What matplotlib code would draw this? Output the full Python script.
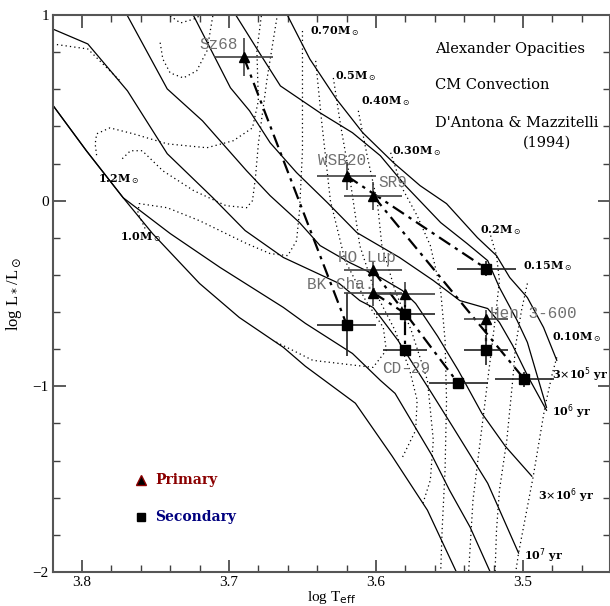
import numpy as np
import matplotlib.pyplot as plt
from matplotlib.ticker import MultipleLocator

# === ISOCHRONES (log Teff, log L/Lsun) ===
iso_3e5_t = [3.663, 3.660, 3.645, 3.627, 3.609, 3.588, 3.570, 3.552, 3.531, 3.518, 3.509, 3.497, 3.486, 3.477]
iso_3e5_l = [1.05, 0.995, 0.763, 0.548, 0.366, 0.204, 0.081, -0.016, -0.199, -0.296, -0.414, -0.522, -0.683, -0.860]

iso_1e6_t = [3.699, 3.695, 3.678, 3.665, 3.638, 3.616, 3.597, 3.580, 3.556, 3.538, 3.524, 3.516, 3.504, 3.497, 3.484]
iso_1e6_l = [1.05, 0.995, 0.780, 0.618, 0.473, 0.366, 0.242, 0.081, -0.118, -0.231, -0.323, -0.468, -0.645, -0.763, -1.113]

iso_b_t = [3.730, 3.724, 3.699, 3.686, 3.672, 3.654, 3.633, 3.613, 3.584, 3.561, 3.543, 3.524, 3.516, 3.507, 3.497, 3.484]
iso_b_l = [1.05, 0.995, 0.608, 0.484, 0.312, 0.151, -0.011, -0.172, -0.306, -0.430, -0.538, -0.581, -0.656, -0.780, -0.941, -1.129]

iso_3e6_t = [3.775, 3.769, 3.742, 3.718, 3.688, 3.672, 3.652, 3.638, 3.618, 3.597, 3.582, 3.573, 3.558, 3.544,
             3.528, 3.512, 3.494]
iso_3e6_l = [1.05, 0.995, 0.602, 0.430, 0.161, 0.027, -0.118, -0.242, -0.333, -0.414, -0.484, -0.554, -0.731,
             -0.914, -1.145, -1.323, -1.484]

iso_1e7_t = [3.820, 3.796, 3.769, 3.742, 3.711, 3.689, 3.663, 3.625, 3.611, 3.602, 3.585, 3.562, 3.548, 3.524, 3.503]
iso_1e7_l = [0.925, 0.844, 0.591, 0.253, 0.016, -0.161, -0.306, -0.446, -0.538, -0.575, -0.753, -1.038, -1.215,
             -1.522, -1.898]

iso_c_t = [3.820, 3.797, 3.772, 3.740, 3.706, 3.663, 3.648, 3.616, 3.597, 3.587, 3.562, 3.550, 3.536, 3.522]
iso_c_l = [0.516, 0.269, 0.016, -0.177, -0.360, -0.575, -0.661, -0.823, -0.968, -1.038, -1.371, -1.559, -1.758, -2.005]

iso_d_t = [3.820, 3.797, 3.772, 3.752, 3.720, 3.693, 3.663, 3.648, 3.635, 3.614, 3.589, 3.565, 3.545]
iso_d_l = [0.516, 0.269, 0.016, -0.177, -0.446, -0.629, -0.790, -0.892, -0.968, -1.091, -1.376, -1.667, -2.005]

isochrones = [(iso_3e5_t, iso_3e5_l), (iso_1e6_t, iso_1e6_l), (iso_b_t, iso_b_l), (iso_3e6_t, iso_3e6_l),
              (iso_1e7_t, iso_1e7_l), (iso_c_t, iso_c_l), (iso_d_t, iso_d_l)]

# === MASS TRACKS ===
trk_010_t = [3.477, 3.480, 3.485, 3.493, 3.503, 3.505]
trk_010_l = [-0.844, -0.930, -1.108, -1.484, -1.898, -2.005]
trk_015_t = [3.497, 3.501, 3.505, 3.507, 3.511, 3.516, 3.518, 3.519]
trk_015_l = [-0.446, -0.591, -0.780, -0.968, -1.290, -1.559, -1.774, -2.005]
trk_020_t = [3.522, 3.518, 3.516, 3.519, 3.524, 3.529, 3.534, 3.537]
trk_020_l = [-0.188, -0.296, -0.430, -0.645, -0.968, -1.290, -1.613, -2.005]
trk_030_t = [3.590, 3.582, 3.572, 3.563, 3.556, 3.553, 3.552, 3.553, 3.555, 3.556]
trk_030_l = [0.258, 0.065, -0.081, -0.242, -0.484, -0.753, -1.075, -1.452, -1.774, -2.005]
trk_040_t = [3.612, 3.606, 3.599, 3.596, 3.587, 3.576, 3.565, 3.561, 3.563, 3.568]
trk_040_l = [0.484, 0.242, -0.011, -0.242, -0.484, -0.699, -0.968, -1.290, -1.505, -1.629]
trk_050_t = [3.629, 3.624, 3.618, 3.611, 3.601, 3.587, 3.577, 3.572, 3.573, 3.582]
trk_050_l = [0.661, 0.403, 0.134, -0.242, -0.484, -0.699, -0.914, -1.075, -1.237, -1.382]
trk_060_t = [3.641, 3.637, 3.631, 3.621, 3.607, 3.595, 3.593, 3.602, 3.643, 3.670]
trk_060_l = [0.753, 0.430, 0.0, -0.323, -0.538, -0.683, -0.806, -0.898, -0.860, -0.753]
trk_100_t = [3.650, 3.650, 3.650, 3.652, 3.654, 3.660, 3.672, 3.688, 3.720, 3.742, 3.761, 3.762, 3.757]
trk_100_l = [0.914, 0.634, 0.269, -0.054, -0.215, -0.296, -0.285, -0.231, -0.108, -0.038, -0.016, -0.065, -0.151]
trk_120_t = [3.667, 3.674, 3.680, 3.682, 3.684, 3.688, 3.702, 3.724, 3.745, 3.759, 3.767, 3.774]
trk_120_l = [1.005, 0.661, 0.306, 0.124, 0.0, -0.038, -0.027, 0.054, 0.161, 0.269, 0.269, 0.215]
trk_150_t = [3.678, 3.681, 3.680, 3.684, 3.697, 3.715, 3.742, 3.765, 3.781, 3.790, 3.791, 3.790]
trk_150_l = [0.995, 0.806, 0.538, 0.392, 0.323, 0.285, 0.306, 0.360, 0.392, 0.360, 0.306, 0.242]
trk_200_t = [3.711, 3.715, 3.722, 3.731, 3.740, 3.745, 3.747]
trk_200_l = [0.995, 0.806, 0.699, 0.661, 0.688, 0.763, 0.860]
trk_250_t = [3.740, 3.733, 3.724, 3.720]
trk_250_l = [0.995, 0.957, 0.978, 0.995]
trk_300_t = [3.820, 3.796, 3.781, 3.774]
trk_300_l = [0.844, 0.817, 0.699, 0.645]

tracks = [(trk_010_t, trk_010_l), (trk_015_t, trk_015_l), (trk_020_t, trk_020_l),
          (trk_030_t, trk_030_l), (trk_040_t, trk_040_l), (trk_050_t, trk_050_l),
          (trk_060_t, trk_060_l), (trk_100_t, trk_100_l), (trk_120_t, trk_120_l),
          (trk_150_t, trk_150_l), (trk_200_t, trk_200_l), (trk_250_t, trk_250_l),
          (trk_300_t, trk_300_l)]

# === BINARIES ===
names = ["Sz68", "WSB20", "SR9", "HO Lup", "BK Cha.", "CD-29", "Hen 3-600"]
prim_t = [3.690, 3.620, 3.602, 3.602, 3.602, 3.580, 3.525]
prim_l = [0.774, 0.134, 0.027, -0.376, -0.495, -0.500, -0.640]
prim_terr = [0.020, 0.020, 0.020, 0.020, 0.020, 0.020, 0.015]
prim_lerr = [0.10, 0.075, 0.075, 0.05, 0.07, 0.06, 0.05]
sec_t = [3.620, 3.525, 3.499, 3.544, 3.580, 3.580, 3.525]
sec_l = [-0.667, -0.366, -0.962, -0.984, -0.608, -0.806, -0.806]
sec_terr = [0.020, 0.020, 0.020, 0.020, 0.020, 0.015, 0.015]
sec_lerr = [0.17, 0.04, 0.04, 0.03, 0.06, 0.03, 0.08]

label_t = [3.720, 3.6395, 3.5986, 3.626, 3.647, 3.596, 3.5224]
label_l = [0.839, 0.215, 0.097, -0.306, -0.452, -0.903, -0.608]

mass_labels = ["0.70", "0.5", "0.40", "0.30", "0.2", "0.15", "0.10", "1.2", "1.0"]
mass_t = [3.645, 3.628, 3.610, 3.589, 3.529, 3.500, 3.480, 3.789, 3.774]
mass_l = [0.914, 0.672, 0.538, 0.269, -0.156, -0.355, -0.737, 0.118, -0.194]

age_labels = [r"3$\times$10$^5$ yr", r"10$^6$ yr", r"3$\times$10$^6$ yr", r"10$^7$ yr"]
age_t = [3.480, 3.480, 3.490, 3.499]
age_l = [-0.935, -1.134, -1.591, -1.914]

# === PLOT ===
fig = plt.figure(figsize=(6.10, 6.06), dpi=100)
ax = fig.add_axes([53 / 610, 34 / 606, 557 / 610, 557 / 606])

for t, l in isochrones:
    ax.plot(t, l, color='black', lw=0.9)
for t, l in tracks:
    ax.plot(t, l, color='black', lw=0.9, ls=(0, (1, 2.5)))

for i in range(len(names)):
    ax.plot([prim_t[i], sec_t[i]], [prim_l[i], sec_l[i]], color='black', lw=1.6,
            ls=(0, (6, 2.5, 1.5, 2.5)))
    ax.errorbar(prim_t[i], prim_l[i], xerr=prim_terr[i], yerr=prim_lerr[i], fmt='none',
                ecolor='#404040', elinewidth=1.2, capsize=0)
    ax.errorbar(sec_t[i], sec_l[i], xerr=sec_terr[i], yerr=sec_lerr[i], fmt='none',
                ecolor='#202020', elinewidth=1.2, capsize=0)
    ax.text(label_t[i], label_l[i], names[i], family='Liberation Mono', fontsize=11.5,
            color='#707070', ha='left', va='center')

ax.plot(prim_t, prim_l, '^', color='black', ms=7, ls='none')
ax.plot(sec_t, sec_l, 's', color='black', ms=7, ls='none')

for i in range(len(mass_labels)):
    ax.text(mass_t[i], mass_l[i], mass_labels[i] + r"M$_\odot$", fontsize=8, weight='bold',
            family='DejaVu Serif', ha='left', va='center')
for i in range(len(age_labels)):
    ax.text(age_t[i], age_l[i], age_labels[i], fontsize=8, weight='bold',
            family='DejaVu Serif', ha='left', va='center')

ax.text(3.560, 0.817, "Alexander Opacities", family='DejaVu Serif', fontsize=10.5, va='center')
ax.text(3.560, 0.624, "CM Convection", family='DejaVu Serif', fontsize=10.5, va='center')
ax.text(3.560, 0.419, "D'Antona & Mazzitelli", family='DejaVu Serif', fontsize=10.5, va='center')
ax.text(3.500, 0.312, "(1994)", family='DejaVu Serif', fontsize=10.5, va='center')

# legend made by hand
ax.plot(3.760, -1.505, '^', color='black', ms=7, markeredgecolor='darkred')
ax.plot(3.760, -1.704, 's', color='black', ms=6)
ax.text(3.750, -1.505, "Primary", color='#8b0000', family='DejaVu Serif', fontsize=10,
        weight='bold', va='center')
ax.text(3.750, -1.704, "Secondary", color='#00007f', family='DejaVu Serif', fontsize=10,
        weight='bold', va='center')

ax.set_xlim(3.8197, 3.4408)
ax.set_ylim(-2, 1)
ax.xaxis.set_major_locator(MultipleLocator(0.1))
ax.xaxis.set_minor_locator(MultipleLocator(0.02))
ax.yaxis.set_major_locator(MultipleLocator(1))
ax.yaxis.set_minor_locator(MultipleLocator(0.2))
ax.tick_params(which='both', direction='in', top=True, right=True, labelsize=11,
               colors='#404040', labelcolor='black')
ax.tick_params(which='major', length=9, width=1.2, pad=3)
ax.tick_params(which='minor', length=5, width=1.0)
for lab in ax.get_xticklabels() + ax.get_yticklabels():
    lab.set_family('Liberation Serif')
for s in ax.spines.values():
    s.set_color('#555555')
    s.set_linewidth(1.5)

ax.set_xlabel(r"log T$_{\rm eff}$", family='Liberation Serif', fontsize=11, labelpad=0)
ax.set_ylabel(r"log L$_*$/L$_\odot$", family='Liberation Serif', fontsize=12, labelpad=6)

fig.savefig("out.png", dpi=100)
